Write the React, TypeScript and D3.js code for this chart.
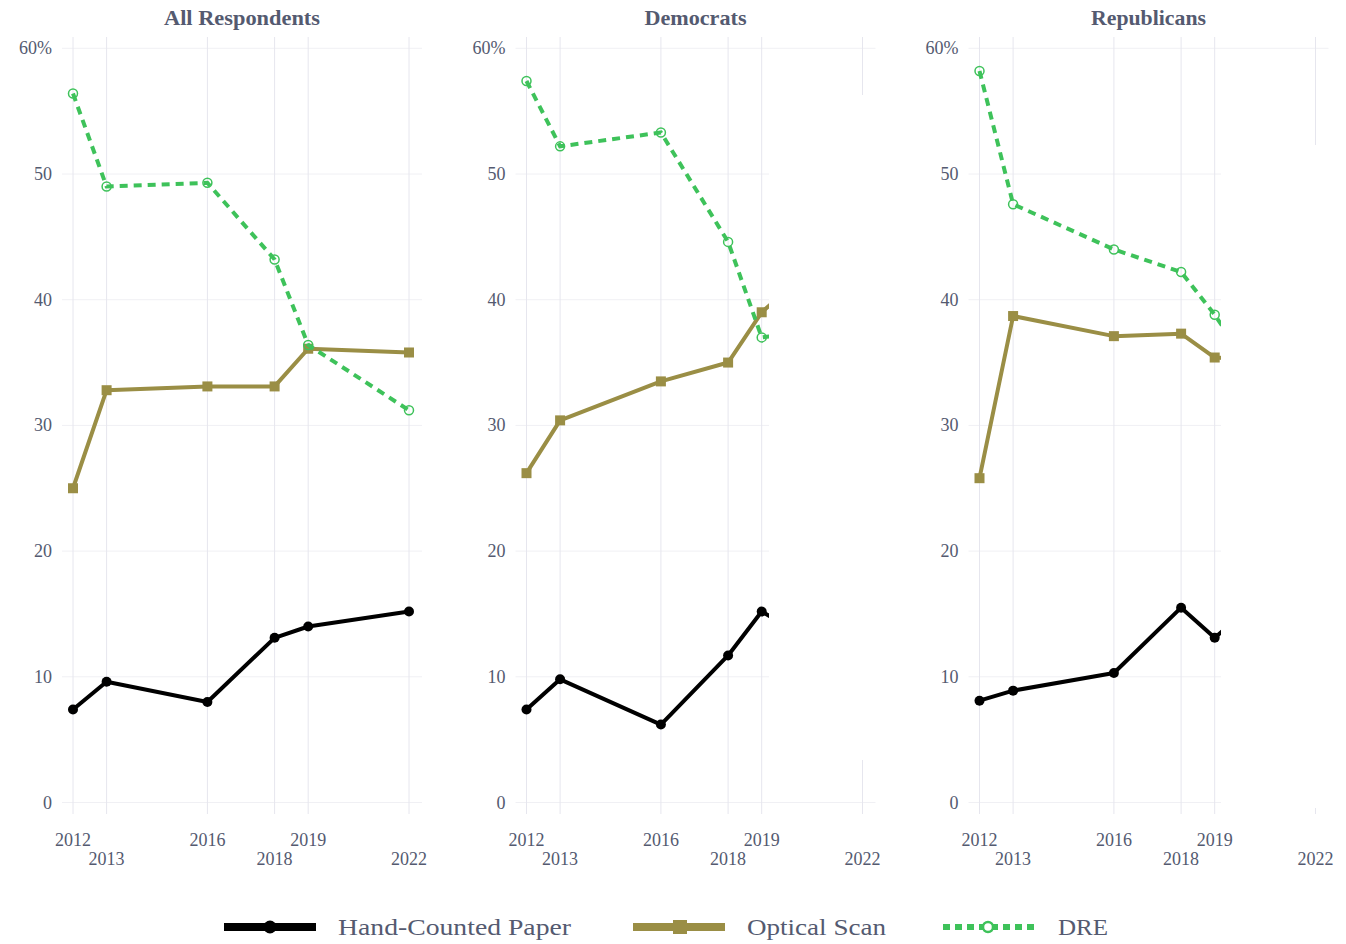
import React from "react";
import * as d3 from "d3";

const years = [2012, 2013, 2016, 2018, 2019, 2022];
const yTicks = [0, 10, 20, 30, 40, 50, 60];
const panelTitles = ["All Respondents", "Democrats", "Republicans"];
const seriesNames = ["Hand-Counted Paper", "Optical Scan", "DRE"];

const allHand = [7.4, 9.6, 8.0, 13.1, 14.0, 15.2];
const allOptical = [25.0, 32.8, 33.1, 33.1, 36.1, 35.8];
const allDRE = [56.4, 49.0, 49.3, 43.2, 36.4, 31.2];

const demHand = [7.4, 9.8, 6.2, 11.7, 15.2, 10.5];
const demOptical = [26.2, 30.4, 33.5, 35.0, 39.0, 46.0];
const demDRE = [57.4, 52.2, 53.3, 44.6, 37.0, 38.0];

const repHand = [8.1, 8.9, 10.3, 15.5, 13.1, 20.0];
const repOptical = [25.8, 38.7, 37.1, 37.3, 35.4, 35.0];
const repDRE = [58.2, 47.6, 44.0, 42.2, 38.8, 27.0];

const panelData = [
  [allHand, allOptical, allDRE],
  [demHand, demOptical, demDRE],
  [repHand, repOptical, repDRE],
];

const colors = ["#000000", "#9a8e45", "#3ec25a"];
const textColor = "#545a70";
const font = "'Liberation Serif', 'DejaVu Serif', serif";

const panelX0 = [73, 526.5, 979.5];
const panelW = 336;
const titleWidths = [156, 102, 115];
// clip windows (rendering cut-off seen in reference): [x, y, w, h] or null
const cutoffs: (number[] | null)[] = [null, [769, 95, 130, 665], [1221, 145, 125, 663]];

function Panel({ idx }: { idx: number }) {
  const x0 = panelX0[idx];
  const x = d3.scaleLinear().domain([2012, 2022]).range([x0, x0 + panelW]);
  const y = d3.scaleLinear().domain([0, 60]).range([802.5, 48.3]);
  const data = panelData[idx];
  const line = d3
    .line<number>()
    .x((_, i) => x(years[i]))
    .y((d) => y(d));
  const cut = cutoffs[idx];
  return (
    <g>
      <text
        x={x0 + panelW / 2 + 1}
        y={25}
        textAnchor="middle"
        fontFamily={font}
        fontWeight="bold"
        fontSize={21}
        fill={textColor}
        textLength={titleWidths[idx]}
        lengthAdjust="spacingAndGlyphs"
      >
        {panelTitles[idx]}
      </text>
      {yTicks.map((t) => (
        <line
          key={"h" + t}
          x1={x0 - 11}
          x2={x0 + panelW + 13}
          y1={y(t)}
          y2={y(t)}
          stroke="#f0f0f4"
          strokeWidth={1}
        />
      ))}
      {years.map((yr) => (
        <line
          key={"v" + yr}
          x1={x(yr)}
          x2={x(yr)}
          y1={37}
          y2={814}
          stroke="#e6e6ee"
          strokeWidth={1}
        />
      ))}
      {yTicks.map((t) => (
        <text
          key={"yl" + t}
          x={x0 - 21}
          y={y(t) + 6}
          textAnchor="end"
          fontFamily={font}
          fontSize={18}
          fill={textColor}
        >
          {t === 60 ? "60%" : String(t)}
        </text>
      ))}
      {years.map((yr, i) => (
        <text
          key={"xl" + yr}
          x={x(yr)}
          y={i % 2 === 0 ? 846 : 865}
          textAnchor="middle"
          fontFamily={font}
          fontSize={18}
          fill={textColor}
        >
          {yr}
        </text>
      ))}
      <path d={line(data[0]) || ""} fill="none" stroke={colors[0]} strokeWidth={4} strokeLinejoin="round" />
      {data[0].map((v, i) => (
        <circle key={"hc" + i} cx={x(years[i])} cy={y(v)} r={5} fill={colors[0]} />
      ))}
      <path d={line(data[1]) || ""} fill="none" stroke={colors[1]} strokeWidth={4} strokeLinejoin="round" />
      {data[1].map((v, i) => (
        <rect key={"or" + i} x={x(years[i]) - 5} y={y(v) - 5} width={10} height={10} fill={colors[1]} />
      ))}
      <path
        d={line(data[2]) || ""}
        fill="none"
        stroke={colors[2]}
        strokeWidth={4}
        strokeDasharray="8,6"
      />
      {data[2].map((v, i) => (
        <circle
          key={"dc" + i}
          cx={x(years[i])}
          cy={y(v)}
          r={4.5}
          fill="none"
          stroke={colors[2]}
          strokeWidth={1.5}
        />
      ))}
      {cut && <rect x={cut[0]} y={cut[1]} width={cut[2]} height={cut[3]} fill="#ffffff" />}
    </g>
  );
}

function Legend() {
  const items = [
    { lx: 224, tx: 338, tw: 233 },
    { lx: 633, tx: 747, tw: 139 },
    { lx: 943, tx: 1058, tw: 50 },
  ];
  const cy = 927;
  return (
    <g>
      {items.map((it, i) => (
        <g key={i}>
          {i === 2 ? (
            <line
              x1={it.lx}
              x2={it.lx + 92}
              y1={cy}
              y2={cy}
              stroke={colors[2]}
              strokeWidth={6}
              strokeDasharray="7,5"
            />
          ) : (
            <line x1={it.lx} x2={it.lx + 92} y1={cy} y2={cy} stroke={colors[i]} strokeWidth={8} />
          )}
          {i === 0 && <circle cx={it.lx + 46} cy={cy} r={6.5} fill={colors[0]} />}
          {i === 1 && <rect x={it.lx + 40} y={cy - 7} width={14} height={14} fill={colors[1]} />}
          {i === 2 && (
            <circle cx={it.lx + 45} cy={cy} r={5} fill="#ffffff" stroke={colors[2]} strokeWidth={2.5} />
          )}
          <text
            x={it.tx}
            y={cy + 8}
            fontFamily={font}
            fontSize={24}
            fill={textColor}
            textLength={it.tw}
            lengthAdjust="spacingAndGlyphs"
          >
            {seriesNames[i]}
          </text>
        </g>
      ))}
    </g>
  );
}

export default function App() {
  return (
    <svg
      width={1346}
      height={944}
      style={{ position: "absolute", left: 0, top: 0, background: "#ffffff" }}
    >
      <rect x={0} y={0} width={1346} height={944} fill="#ffffff" />
      {[0, 1, 2].map((i) => (
        <Panel key={i} idx={i} />
      ))}
      <Legend />
    </svg>
  );
}
